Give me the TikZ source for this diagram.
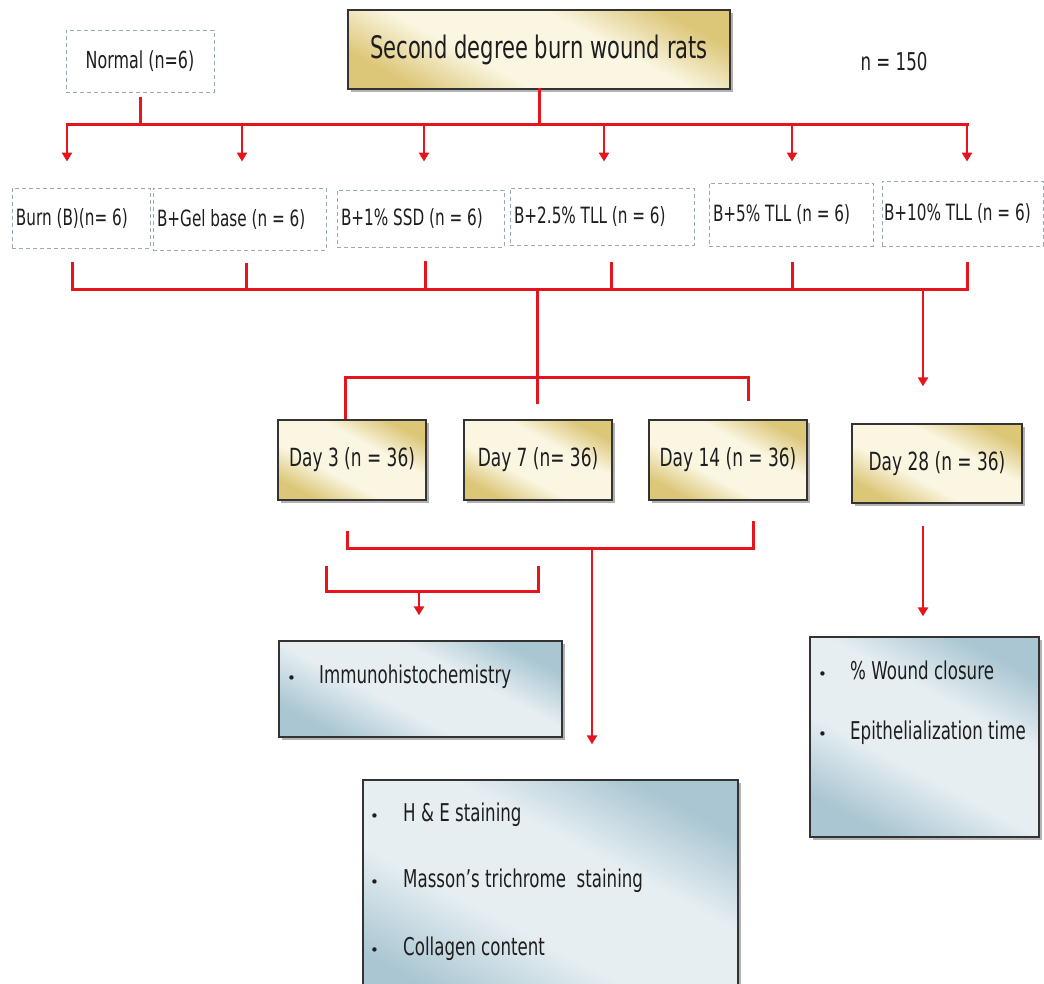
\documentclass[tikz,border=0pt]{standalone}
\usepackage{fontspec}
\setmainfont{DejaVu Sans}[FakeStretch=0.68]
\newfontfamily\bulletfont{DejaVu Sans}
\usetikzlibrary{arrows.meta,shadows}
\definecolor{lred}{HTML}{E6141C}
\definecolor{dgray}{HTML}{9AAAB2}
\definecolor{cream}{HTML}{FAF6E1}
\definecolor{gold}{HTML}{DCC678}
\definecolor{lblue}{HTML}{E6EEF2}
\definecolor{sblue}{HTML}{A9C6D2}
\definecolor{ink}{HTML}{1E1E1E}
\pgfdeclareverticalshading{goldsh}{100bp}{color(0bp)=(gold); color(25bp)=(gold); color(40bp)=(cream); color(60bp)=(cream); color(75bp)=(gold); color(100bp)=(gold)}
\pgfdeclareverticalshading{bluesh}{100bp}{color(0bp)=(sblue); color(25bp)=(sblue); color(42bp)=(lblue); color(60bp)=(lblue); color(75bp)=(sblue); color(100bp)=(sblue)}
\newcommand{\myfs}[1]{\fontsize{#1}{#1}\selectfont}
\newcommand{\bul}[1]{\makebox[#1][l]{{\bulletfont\myfs{15}\textbullet}}}
\newcommand{\lft}[2]{\makebox[#1][l]{#2}}
\tikzset{
  grp/.style={draw=dgray, dash pattern=on 4pt off 3pt, line width=0.9pt, inner xsep=4pt, inner ysep=0pt, text=ink, font=\myfs{22.4}},
  goldbox/.style={draw=black!80, line width=1.3pt, shading=goldsh, shading angle=-28,
    drop shadow={shadow xshift=3pt, shadow yshift=-3pt, fill=black!50, opacity=0.6}, text=ink, inner sep=0pt},
  bluebox/.style={draw=black!80, line width=1.3pt, shading=bluesh, shading angle=-28,
    drop shadow={shadow xshift=3pt, shadow yshift=-3pt, fill=black!50, opacity=0.6}, inner sep=0pt},
  link/.style={draw=lred, line width=3pt},
  bar/.style={link, line cap=rect},
  arr/.style={link, line width=2.6pt, -{Triangle[width=10pt,length=9pt]}},
  item/.style={anchor=west, inner sep=0pt, text=ink, font=\myfs{24.5}},
}
\begin{document}
\begin{tikzpicture}[x=1pt,y=-1pt]
\clip (0,0) rectangle (1044,984);
\fill[white] (0,0) rectangle (1044,984);

% top nodes
\node[goldbox, minimum width=382pt, minimum height=79pt, font=\myfs{31}] (title) at (539,49.5) {Second degree burn wound rats};
\node[grp, minimum width=148pt, minimum height=62pt, font=\myfs{23.4}] (normal) at (140,61) {Normal (n=6)};
\node[text=ink, font=\myfs{24.5}, inner sep=0pt] (n150) at (894,62) {n = 150};

% groups
\node[grp, minimum height=60pt] (g1) at (81,218) {\lft{130pt}{Burn (B)(n= 6)}};
\node[grp, minimum height=62pt] (g2) at (239.5,219) {\lft{165pt}{B+Gel base (n = 6)}};
\node[grp, minimum height=57pt] (g3) at (420.5,218.5) {\lft{159pt}{B+1\% SSD (n = 6)}};
\node[grp, minimum height=57pt] (g4) at (602,216.5) {\lft{176pt}{B+2.5\% TLL (n = 6)}};
\node[grp, minimum height=63pt] (g5) at (791,214.5) {\lft{156pt}{B+5\% TLL (n = 6)}};
\node[grp, minimum height=65pt, inner xsep=2pt] (g6) at (962.5,213.5) {\lft{157pt}{B+10\% TLL (n = 6)}};

% days
\node[goldbox, minimum width=148pt, minimum height=80pt, font=\myfs{25}] (d3) at (352,460) {Day 3 (n = 36)};
\node[goldbox, minimum width=148pt, minimum height=80pt, font=\myfs{25}] (d7) at (538,460) {Day 7 (n= 36)};
\node[goldbox, minimum width=158pt, minimum height=80pt, font=\myfs{25}] (d14) at (728,460) {Day 14 (n = 36)};
\node[goldbox, minimum width=170pt, minimum height=79pt, font=\myfs{25}] (d28) at (937,463.5) {Day 28 (n = 36)};

% result boxes
\node[bluebox, minimum width=283pt, minimum height=96pt] (imm) at (420.5,689) {};
\node[bluebox, minimum width=229pt, minimum height=200pt] (wound) at (924.5,737) {};
\node[bluebox, minimum width=375pt, minimum height=230pt] (histo) at (550.5,895) {};

\node[item] (i1) at (287,677) {\bul{32pt}Immunohistochemistry};
\node[item] (h1) at (370,815) {\bul{33pt}H \& E staining};
\node[item] (h2) at (370,881) {\bul{33pt}Masson’s trichrome~ staining};
\node[item] (h3) at (370,949) {\bul{33pt}Collagen content};
\node[item] (w1) at (818,670) {\bul{32pt}\% Wound closure};
\node[item] (w2) at (818,733) {\bul{32pt}Epithelialization time};

% junction coordinates
\coordinate (tbL) at (67,125);
\coordinate (tbR) at (967,125);
\coordinate (a1) at (67,125);
\coordinate (a2) at (242,125);
\coordinate (a3) at (424,125);
\coordinate (a4) at (604,125);
\coordinate (a5) at (792,125);
\coordinate (a6) at (967,125);
\coordinate (b1) at (72,290);
\coordinate (b2) at (246,290);
\coordinate (b3) at (425,290);
\coordinate (b4) at (611,290);
\coordinate (b5) at (792,290);
\coordinate (b6) at (967,290);
\coordinate (bc) at (537,290);
\coordinate (b28) at (923,290);
\coordinate (k1) at (345,377);
\coordinate (k2) at (748,377);
\coordinate (lb1) at (347,548);
\coordinate (lb2) at (753,548);
\coordinate (lbc) at (592,548);
\coordinate (s1) at (326,566);
\coordinate (s2) at (326,591);
\coordinate (s3) at (538,591);
\coordinate (s4) at (538,566);
\coordinate (sa) at (419,591);

% top level connectors
\draw[bar] (title.south) -- (title.south |- tbL);
\draw[link, shorten <=5pt] (normal.south) -- ([yshift=1pt]normal.south |- tbL);
\draw[bar] (tbL) -- (tbR);
\draw[arr, shorten >=26pt] (a1) -- (a1 |- g1.north);
\draw[arr, shorten >=26pt] (a2) -- (a2 |- g2.north);
\draw[arr, shorten >=28pt] (a3) -- (a3 |- g3.north);
\draw[arr, shorten >=26pt] (a4) -- (a4 |- g4.north);
\draw[arr, shorten >=21pt] (a5) -- (a5 |- g5.north);
\draw[arr, shorten >=19pt] (a6) -- (a6 |- g6.north);

% group collection bar
\draw[bar, shorten <=15pt] (b1 |- g1.south) -- (b1);
\draw[bar, shorten <=14pt] (b2 |- g2.south) -- (b2);
\draw[bar, shorten <=15pt] (b3 |- g3.south) -- (b3);
\draw[bar, shorten <=18pt] (b4 |- g4.south) -- (b4);
\draw[bar, shorten <=17pt] (b5 |- g5.south) -- (b5);
\draw[bar, shorten <=17pt] (b6 |- g6.south) -- (b6);
\draw[bar] (b1) -- (b6);

% to days
\draw[link, shorten >=15pt] (bc) -- (bc |- d7.north);
\draw[link, shorten >=18pt] (k1 |- d3.north) -- (k1) -- (k2) -- (k2 |- d14.north);
\draw[arr, shorten >=37pt] (b28) -- (b28 |- d28.north);

% below days
\draw[link, line join=miter, shorten <=30pt, shorten >=20pt] (lb1 |- d3.south) -- (lb1) -- (lb2) -- (lb2 |- d14.south);
\draw[arr, shorten >=35pt] (lbc) -- (lbc |- histo.north);
\draw[link] (s1) -- (s2) -- (s3) -- (s4);
\draw[arr, shorten >=25pt] (sa) -- (sa |- imm.north);
\draw[arr, shorten <=22pt, shorten >=20pt] (b28 |- d28.south) -- (b28 |- wound.north);
\end{tikzpicture}
\end{document}
